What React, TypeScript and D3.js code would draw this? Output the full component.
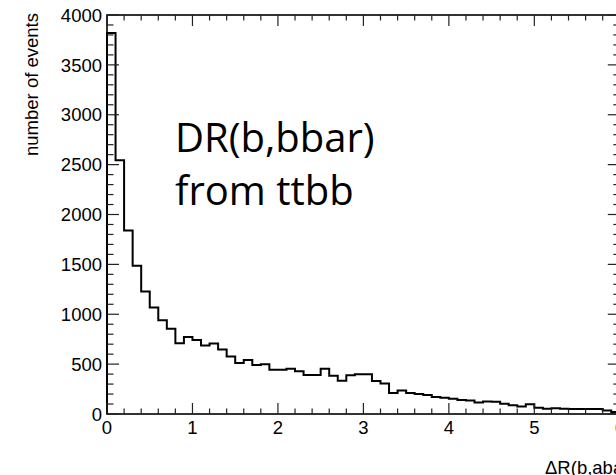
import React from "react";
import * as d3 from "d3";

const binWidth = 0.1;
const binCounts = [
  3820, 2545, 1840, 1485, 1228, 1068, 941, 854, 710, 771,
  741, 686, 706, 647, 576, 512, 541, 492, 498, 444,
  444, 454, 428, 392, 392, 454, 384, 333, 388, 398,
  398, 330, 305, 210, 235, 210, 200, 190, 170, 163,
  153, 140, 136, 115, 125, 123, 103, 88, 75, 97,
  63, 52, 58, 53, 50, 50, 50, 50, 35, 20,
];
const xMajorTicks = [0, 1, 2, 3, 4, 5, 6];
const yMajorTicks = [0, 500, 1000, 1500, 2000, 2500, 3000, 3500, 4000];
const yTitle = "number of events";
const xTitle = "ΔR(b,abar)";
const noteLines = ["DR(b,bbar)", "from ttbb"];

const W = 616;
const H = 475;
const left = 107;
const right = 619.8;
const top = 15;
const bottom = 414;

export default function App() {
  const x = d3.scaleLinear().domain([0, 6]).range([left, right]);
  const y = d3.scaleLinear().domain([0, 4000]).range([bottom, top]);

  let d = `M${x(0)},${y(0)}`;
  binCounts.forEach((v, i) => {
    d += `V${y(v)}H${x((i + 1) * binWidth)}`;
  });
  d += `V${y(0)}`;

  const xMinor = d3.range(0, 30.01, 1).map((i) => i * 0.2).filter((v) => Math.abs(v - Math.round(v)) > 1e-6);
  const yMinor = d3.range(0, 40.01, 1).map((i) => i * 100).filter((v) => v % 500 !== 0);

  const font = "'Liberation Sans', Arial, Helvetica, sans-serif";
  const fs = 18.5;

  return (
    <svg
      width={W}
      height={H}
      style={{ position: "absolute", left: 0, top: 0, background: "#fff" }}
    >
      <rect x={0} y={0} width={W} height={H} fill="#fff" />
      <path d={d} fill="none" stroke="#000" strokeWidth={2} />
      <rect x={left} y={top} width={right - left} height={bottom - top} fill="none" stroke="#000" strokeWidth={1.6} />
      {yMajorTicks.map((v) => (
        <g key={"ym" + v}>
          <line x1={left} x2={left + 12} y1={y(v)} y2={y(v)} stroke="#222" strokeWidth={1.2} />
          <line x1={right} x2={right - 12} y1={y(v)} y2={y(v)} stroke="#222" strokeWidth={1.2} />
        </g>
      ))}
      {yMinor.map((v) => (
        <g key={"yn" + v}>
          <line x1={left} x2={left + 6.5} y1={y(v)} y2={y(v)} stroke="#222" strokeWidth={1.2} />
          <line x1={right} x2={right - 6.5} y1={y(v)} y2={y(v)} stroke="#222" strokeWidth={1.2} />
        </g>
      ))}
      {xMajorTicks.map((v) => (
        <g key={"xm" + v}>
          <line x1={x(v)} x2={x(v)} y1={bottom} y2={bottom - 11} stroke="#222" strokeWidth={1.2} />
          <line x1={x(v)} x2={x(v)} y1={top} y2={top + 11} stroke="#222" strokeWidth={1.2} />
        </g>
      ))}
      {xMinor.map((v) => (
        <g key={"xn" + v}>
          <line x1={x(v)} x2={x(v)} y1={bottom} y2={bottom - 5.5} stroke="#222" strokeWidth={1.2} />
          <line x1={x(v)} x2={x(v)} y1={top} y2={top + 5.5} stroke="#222" strokeWidth={1.2} />
        </g>
      ))}
      {yMajorTicks.map((v) => (
        <text key={"yl" + v} x={left - 5} y={y(v)} dy="0.36em" textAnchor="end" fontFamily={font} fontSize={fs} fill="#000">
          {v}
        </text>
      ))}
      {xMajorTicks.map((v) => (
        <text key={"xl" + v} x={x(v)} y={434} textAnchor="middle" fontFamily={font} fontSize={fs} fill="#000">
          {v}
        </text>
      ))}
      <text transform={`translate(38,${top - 2}) rotate(-90)`} textAnchor="end" fontFamily={font} fontSize={fs} fill="#000">
        {yTitle}
      </text>
      <text x={545} y={474} textAnchor="start" fontFamily={font} fontSize={fs} fill="#000">
        {xTitle}
      </text>
      {noteLines.map((t, i) => (
        <text key={t} x={175} y={151.7 + i * 53.3} fontFamily="'Open Sans', sans-serif" fontSize={40} fill="#000">
          {t}
        </text>
      ))}
    </svg>
  );
}
